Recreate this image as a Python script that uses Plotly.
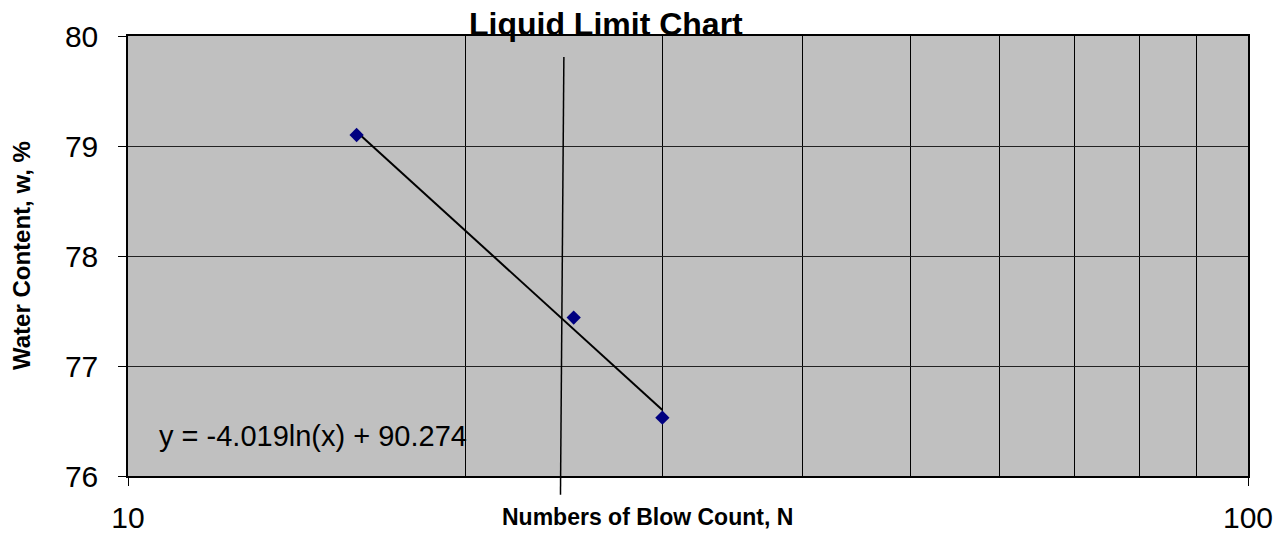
import plotly.graph_objects as go

# Data
blow_counts = [16, 25, 30]
water_content = [79.1, 77.44, 76.53]

trend_x = [16, 30]
trend_y = [79.13, 76.60]

marker_line_x = [24.5, 24.33]
marker_line_y = [79.81, 75.83]

y_ticks = [76, 77, 78, 79, 80]
x_major_ticks = [10, 100]
x_minor_ticks = [20, 30, 40, 50, 60, 70, 80, 90]

title_text = "Liquid Limit Chart"
x_title = "Numbers of Blow Count, N"
y_title = "Water Content, w, %"
equation_text = "y = -4.019ln(x) + 90.274"

FONT = "Liberation Sans, Arial, sans-serif"

# geometry (screen pixels)
W, H = 1286, 535
plot_left, plot_right, plot_top, plot_bottom = 128, 1248, 36, 476
paper_bottom = 497  # extended region so the marker line can run below the axis

y_min, y_max = 76, 80
px_per_unit = (plot_bottom - plot_top) / (y_max - y_min)
y_dom_bottom = (paper_bottom - plot_bottom) / (paper_bottom - plot_top)
y2_min = y_max - (paper_bottom - plot_top) / px_per_unit


def px_x(p):
    return (p - plot_left) / (plot_right - plot_left)


def px_y(p):
    return (paper_bottom - p) / (paper_bottom - plot_top)


fig = go.Figure()

fig.add_trace(go.Scatter(
    x=trend_x, y=trend_y, mode="lines",
    line=dict(color="black", width=2), showlegend=False, hoverinfo="skip"))

# marker line on an overlay subplot with identical scale but taller domain
fig.add_trace(go.Scatter(
    x=marker_line_x, y=marker_line_y, mode="lines", xaxis="x2", yaxis="y2",
    line=dict(color="black", width=1.5),
    showlegend=False, hoverinfo="skip"))

fig.add_trace(go.Scatter(
    x=blow_counts, y=water_content, mode="markers",
    marker=dict(symbol="diamond", size=11, color="#000080",
                line=dict(width=0)),
    showlegend=False))

fig.update_layout(
    width=W, height=H,
    margin=dict(l=plot_left, r=W - plot_right,
                t=plot_top, b=H - paper_bottom, pad=0),
    paper_bgcolor="white",
    plot_bgcolor="rgba(0,0,0,0)",
    font=dict(family=FONT, color="black"),
    showlegend=False,
    shapes=[dict(type="rect", xref="x domain", yref="y domain",
                 x0=0, x1=1, y0=0, y1=1, fillcolor="#C0C0C0",
                 line=dict(width=0), layer="below")],
    xaxis=dict(
        type="log", range=[1, 2], automargin=False, domain=[0, 1],
        tickmode="array", tickvals=x_major_ticks,
        ticktext=[str(v) for v in x_major_ticks],
        ticks="outside", ticklen=8, tickcolor="black", tickwidth=1,
        tickfont=dict(size=30, family=FONT),
        ticklabelstandoff=6,
        showgrid=False,
        minor=dict(tickmode="array", tickvals=x_minor_ticks, showgrid=True,
                   gridcolor="black", gridwidth=1, ticks=""),
        showline=True, linecolor="black", linewidth=1.5, mirror=True,
        zeroline=False, anchor="y",
    ),
    yaxis=dict(
        range=[y_min, y_max], automargin=False, domain=[y_dom_bottom, 1],
        tickmode="array", tickvals=y_ticks,
        ticks="outside", ticklen=8, tickcolor="black", tickwidth=1,
        tickfont=dict(size=30, family=FONT),
        ticklabelstandoff=14,
        showgrid=True, gridcolor="#222222", gridwidth=1,
        showline=True, linecolor="black", linewidth=1.5, mirror=True,
        zeroline=False, anchor="x",
    ),
    xaxis2=dict(
        type="log", range=[1, 2], domain=[0, 1], anchor="y2",
        visible=False, fixedrange=True,
    ),
    yaxis2=dict(
        range=[y2_min, y_max], domain=[0, 1], anchor="x2",
        visible=False, fixedrange=True,
    ),
    annotations=[
        dict(text="<b>" + title_text + "</b>", xref="paper", yref="paper",
             x=px_x(606), y=px_y(24), xanchor="center", yanchor="middle",
             showarrow=False, font=dict(size=32, family=FONT)),
        dict(text="<b>" + x_title + "</b>", xref="paper", yref="paper",
             x=px_x(647), y=px_y(517), xanchor="center", yanchor="middle",
             showarrow=False, font=dict(size=23, family=FONT)),
        dict(text="<b>" + y_title + "</b>", xref="paper", yref="paper",
             x=px_x(22), y=px_y(256), xanchor="center", yanchor="middle",
             textangle=-90, showarrow=False, font=dict(size=24, family=FONT)),
        dict(text=equation_text, xref="paper", yref="paper",
             x=px_x(157), y=px_y(436), xanchor="left", yanchor="middle",
             showarrow=False, font=dict(size=29, family=FONT)),
    ],
)

fig.write_html(
    "out.html",
    config={"displayModeBar": False},
    post_script="document.body.style.margin='0';document.body.style.overflow='hidden';",
)
